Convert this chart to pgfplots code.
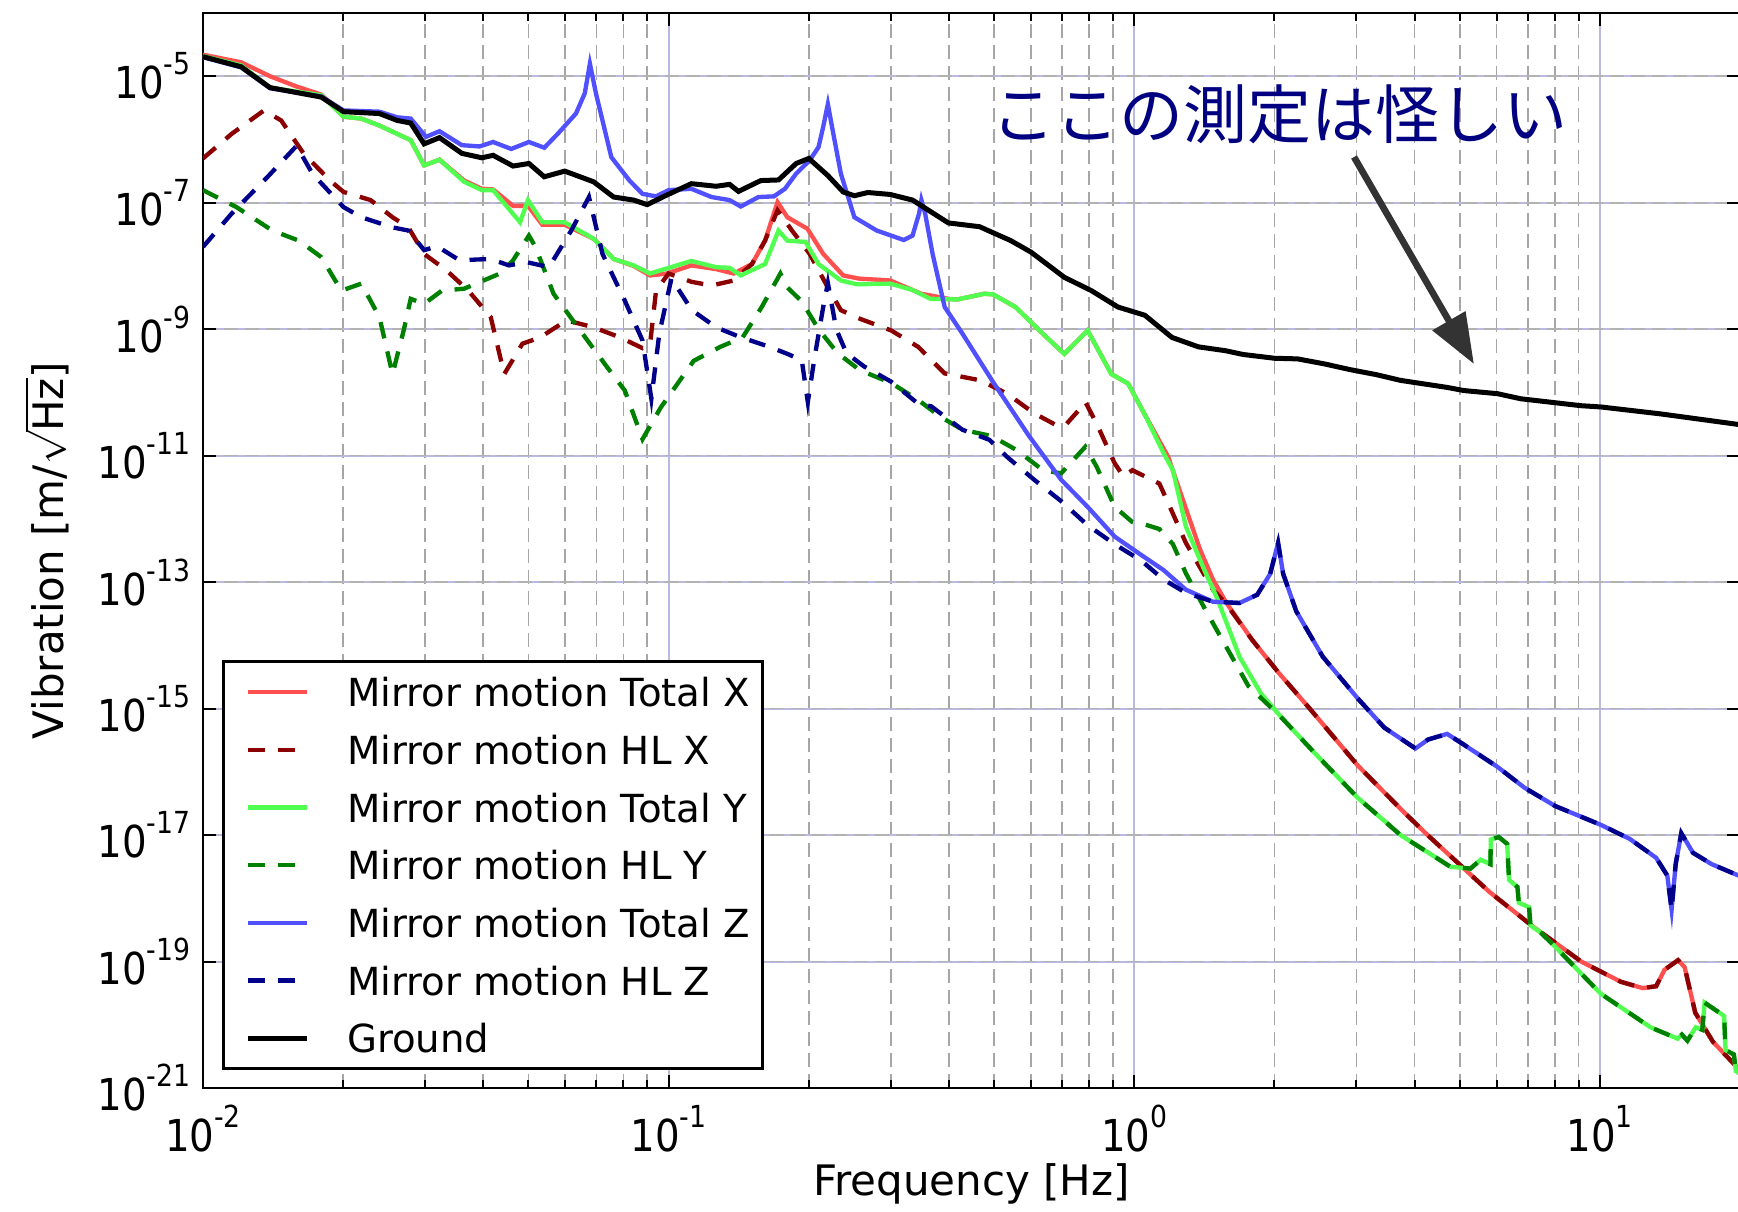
\documentclass[border=0pt]{standalone}
\usepackage{fontspec}
\setmainfont{DejaVu Sans}
\newfontfamily\tickfont{DejaVu Sans}[FakeStretch=0.88]
\newfontfamily\cjk{Noto Sans CJK JP}
\usepackage{pgfplots}
\pgfplotsset{compat=1.18}
\usetikzlibrary{arrows.meta}
\definecolor{totx}{RGB}{255,80,80}
\definecolor{hlx}{RGB}{139,0,0}
\definecolor{toty}{RGB}{80,255,80}
\definecolor{hly}{RGB}{0,128,0}
\definecolor{totz}{RGB}{80,80,255}
\definecolor{hlz}{RGB}{0,0,139}
\definecolor{gridblue}{RGB}{185,185,225}
\definecolor{annot}{RGB}{0,0,128}
\definecolor{arrowgray}{RGB}{51,51,51}
\newcommand{\tl}[1]{10\raisebox{7.2pt}{\fontsize{9.1}{10}\selectfont #1}}
\begin{document}
\begin{tikzpicture}
\begin{axis}[
  at={(60.9pt,37.2pt)}, anchor=south west,
  scale only axis, width=461.1pt, height=322.5pt,
  xmode=log, ymode=log,
  xmin=0.01, xmax=20, ymin=1e-21, ymax=1e-4,
  xtick={0.01,0.1,1,10},
  xticklabels={\tl{-2},\tl{-1},\tl{0},\tl{1}},
  minor xtick={0.02,0.03,0.04,0.05,0.06,0.07,0.08,0.09,0.2,0.3,0.4,0.5,0.6,0.7,0.8,0.9,2,3,4,5,6,7,8,9,20},
  ytick={1e-21,1e-19,1e-17,1e-15,1e-13,1e-11,1e-9,1e-7,1e-5},
  yticklabels={\tl{-21},\tl{-19},\tl{-17},\tl{-15},\tl{-13},\tl{-11},\tl{-9},\tl{-7},\tl{-5}},
  tick align=inside, tick pos=both,
  major tick length=4pt, minor tick length=2.5pt,
  every tick/.style={black, line width=0.6pt},
  xmajorgrids, xminorgrids, ymajorgrids,
  major x grid style={gridblue, line width=0.6pt},
  minor x grid style={gray!70, dash pattern=on 4.2pt off 2.1pt, line width=0.5pt},
  major y grid style={gridblue, line width=0.6pt, postaction={draw=gray!60, dash pattern=on 4.2pt off 2.1pt, line width=0.5pt}},
  axis line style={line width=0.8pt},
  ticklabel style={font=\tickfont\fontsize{13.2}{15}\selectfont},
  xticklabel style={anchor=base, yshift=-18.9pt},
  yticklabel style={inner sep=0pt, xshift=-3.6pt},
  xlabel={Frequency [Hz]},
  ylabel={Vibration [m/$\sqrt{\mbox{Hz}}$]},
  label style={font=\fontsize{12.6}{15}\selectfont},
  xlabel style={at={(axis description cs:0.5,-0.0893)}, anchor=center},
  ylabel style={at={(axis description cs:-0.1017,0.5)}, anchor=center, inner sep=0pt},
  legend style={at={(0.0124,0.0167)}, anchor=south west, draw=black, line width=0.8pt, fill=white,
    font=\fontsize{11.6}{13}\selectfont, inner xsep=3.7pt, inner ysep=4.8pt, row sep=8.6pt, column sep=11.3pt,
    nodes={inner sep=0pt, text height=8.7pt, text depth=0pt}},
  legend cell align=left,
  legend image code/.code={\path (0pt,0pt); \draw[#1] (2.9pt,0pt) -- (20.6pt,0pt);},
]
% Mirror motion Total X
\addplot[totx, line width=1.3pt] coordinates {
(0.0100,2.19e-5) (0.01208,1.66e-5) (0.01393,1.00e-5) (0.01585,6.92e-6) (0.01795,5.13e-6)
(0.02004,2.29e-6) (0.02188,2.14e-6) (0.02393,1.66e-6) (0.02793,9.77e-7) (0.02985,3.89e-7)
(0.03221,4.79e-7) (0.03639,2.24e-7) (0.03972,1.66e-7) (0.04198,1.62e-7) (0.04634,8.91e-8)
(0.04989,8.91e-8) (0.05358,4.47e-8) (0.05984,4.47e-8) (0.06902,2.69e-8) (0.07621,1.29e-8)
(0.08414,1.00e-8) (0.09120,7.08e-9) (0.0991,7.59e-9) (0.1119,1.02e-8) (0.1265,8.91e-9)
(0.1380,7.59e-9) (0.1510,1.07e-8) (0.1611,2.51e-8) (0.1714,1.02e-7) (0.1799,5.89e-8)
(0.1986,3.89e-8) (0.2148,1.55e-8) (0.2371,7.08e-9) (0.2564,6.31e-9) (0.2992,5.89e-9)
(0.3491,3.63e-9) (0.3990,3.02e-9) (0.4169,2.95e-9) (0.4764,3.63e-9) (0.4977,3.55e-9)
(0.5559,2.24e-9) (0.6486,7.41e-10) (0.7079,4.07e-10) (0.7943,9.55e-10) (0.8933,1.95e-10)
(0.9705,1.38e-10) (1.059,4.17e-11) (1.183,9.55e-12) (1.271,2.04e-12) (1.384,3.31e-13)
(1.476,1.10e-13) (1.578,4.68e-14) (1.795,1.20e-14) (2.046,3.63e-15) (2.382,1.00e-15)
(3.020,1.26e-16) (3.750,2.51e-17) (4.266,1.00e-17) (5.794,1.26e-18) (7.194,3.55e-19)
(9.120,1.00e-19) (11.09,4.79e-20) (12.36,3.80e-20) (13.21,4.07e-20) (13.77,7.41e-20)
(14.72,1.05e-19) (15.21,8.13e-20) (16.03,1.55e-20) (17.50,5.37e-21) (20.0,1.91e-21)
};
\addlegendentry{Mirror motion Total X}
% Mirror motion HL X
\addplot[hlx, line width=1.3pt, dash pattern=on 5pt off 4pt] coordinates {
(0.0100,5.01e-7) (0.01153,1.23e-6) (0.01352,2.88e-6) (0.01472,2.00e-6) (0.01644,6.03e-7)
(0.01875,2.24e-7) (0.02004,1.48e-7) (0.02291,1.10e-7) (0.02553,5.89e-8) (0.02761,4.07e-8)
(0.02985,1.55e-8) (0.03334,8.51e-9) (0.03715,4.07e-9) (0.04150,1.55e-9) (0.04436,1.95e-10)
(0.04853,5.89e-10) (0.05297,7.41e-10) (0.06039,1.38e-9) (0.06902,1.07e-9) (0.07870,7.41e-10)
(0.08790,5.01e-10) (0.09120,5.62e-10) (0.09397,4.07e-9) (0.1000,7.59e-9) (0.1119,5.62e-9)
(0.1236,4.90e-9) (0.1380,5.89e-9) (0.1510,1.07e-8) (0.1611,2.51e-8) (0.1714,7.59e-8)
(0.1841,3.63e-8) (0.2009,1.55e-8) (0.2198,4.57e-9) (0.2344,2.00e-9) (0.2564,1.48e-9)
(0.3006,9.55e-10) (0.3436,5.25e-10) (0.3917,2.00e-10) (0.4677,1.55e-10) (0.5333,9.55e-11)
(0.6095,4.68e-11) (0.6808,3.02e-11) (0.7112,3.02e-11) (0.7603,5.25e-11) (0.7852,7.08e-11)
(0.8299,3.24e-11) (0.9078,7.59e-12) (0.9484,4.68e-12) (0.9908,5.89e-12) (1.132,3.63e-12)
(1.183,1.78e-12) (1.291,4.17e-13) (1.476,7.59e-14) (1.578,4.47e-14)
(1.795,1.20e-14) (2.046,3.63e-15) (2.382,1.00e-15)
(3.020,1.26e-16) (3.750,2.51e-17) (4.266,1.00e-17) (5.794,1.26e-18) (7.194,3.55e-19)
(9.120,1.00e-19) (11.09,4.79e-20) (12.36,3.80e-20) (13.21,4.07e-20) (13.77,7.41e-20)
(14.72,1.05e-19) (15.21,8.13e-20) (16.03,1.55e-20) (17.50,5.37e-21) (20.0,1.91e-21)
};
\addlegendentry{Mirror motion HL X}
% Mirror motion Total Y
\addplot[toty, line width=1.3pt] coordinates {
(0.0100,2.09e-5) (0.01208,1.48e-5) (0.01393,6.61e-6) (0.01795,5.01e-6) (0.02004,2.29e-6)
(0.02188,2.14e-6) (0.02393,1.66e-6) (0.02793,9.77e-7) (0.02985,3.89e-7) (0.03221,4.79e-7)
(0.03639,2.14e-7) (0.03972,1.58e-7) (0.04198,1.58e-7) (0.04797,4.90e-8) (0.04989,1.10e-7)
(0.05358,4.90e-8) (0.05984,4.90e-8) (0.06902,2.69e-8) (0.07621,1.29e-8) (0.08414,1.02e-8)
(0.09120,7.59e-9) (0.0991,9.12e-9) (0.1119,1.20e-8) (0.1265,9.55e-9) (0.1352,9.33e-9)
(0.1429,7.08e-9) (0.1611,1.07e-8) (0.1722,3.63e-8) (0.1799,2.51e-8) (0.1968,2.40e-8)
(0.2099,1.07e-8) (0.2344,5.89e-9) (0.2535,5.13e-9) (0.2992,5.25e-9) (0.3342,4.17e-9)
(0.3648,3.02e-9) (0.4169,2.95e-9) (0.4764,3.63e-9) (0.4977,3.55e-9) (0.5559,2.24e-9)
(0.6486,7.41e-10) (0.7079,4.07e-10) (0.7943,9.55e-10) (0.8933,1.95e-10) (0.9705,1.38e-10)
(1.059,4.17e-11) (1.156,1.10e-11) (1.211,5.89e-12) (1.291,7.59e-13) (1.413,1.58e-13)
(1.510,5.37e-14) (1.683,6.61e-15) (1.875,1.70e-15) (2.089,6.76e-16) (2.432,2.04e-16)
(3.020,3.89e-17) (3.733,1.00e-17) (4.775,3.16e-18) (5.272,2.95e-18) (5.546,4.07e-18)
(5.821,3.47e-18) (5.834,8.51e-18) (6.067,9.33e-18) (6.324,7.24e-18) (6.383,1.95e-18)
(6.653,1.51e-18) (6.699,8.51e-19) (7.047,7.24e-19) (7.096,3.72e-19) (7.464,2.88e-19)
(7.980,1.78e-19) (10.05,3.09e-20) (12.85,9.12e-21) (14.69,6.03e-21) (15.00,7.0e-21)
(15.42,5.6e-21) (16.07,9.12e-21) (16.60,8.32e-21) (16.79,2.24e-20) (18.49,1.38e-20)
(18.62,3.98e-21) (19.41,3.39e-21) (19.59,1.86e-21) (20.0,1.66e-21)
};
\addlegendentry{Mirror motion Total Y}
% Mirror motion HL Y
\addplot[hly, line width=1.3pt, dash pattern=on 5pt off 4pt] coordinates {
(0.0100,1.58e-7) (0.01180,8.51e-8) (0.01409,3.63e-8) (0.01607,2.51e-8) (0.01795,1.38e-8)
(0.01982,4.07e-9) (0.02188,5.25e-9) (0.02393,1.55e-9) (0.02553,1.95e-10) (0.02698,9.55e-10)
(0.02793,3.02e-9) (0.02985,2.51e-9) (0.03258,4.07e-9) (0.03639,4.37e-9) (0.04345,7.59e-9)
(0.04634,1.23e-8) (0.05012,3.02e-8) (0.05176,2.00e-8) (0.05662,3.63e-9) (0.06457,9.55e-10)
(0.07379,2.51e-10) (0.08054,1.07e-10) (0.08790,1.82e-11) (0.09616,5.75e-11) (0.1132,3.16e-10)
(0.1291,5.25e-10) (0.1442,7.41e-10) (0.1585,2.24e-9) (0.1738,7.59e-9) (0.1799,4.57e-9)
(0.1932,2.75e-9) (0.2099,1.0e-9) (0.2307,4.17e-10) (0.2576,2.24e-10) (0.3006,1.41e-10)
(0.3436,7.59e-11) (0.3828,4.17e-11) (0.4276,2.57e-11) (0.4943,2.04e-11) (0.5585,1.23e-11)
(0.6368,5.89e-12) (0.6966,5.25e-12) (0.7852,1.38e-11) (0.8299,6.76e-12) (0.9078,1.55e-12)
(0.9908,8.91e-13) (1.035,8.51e-13) (1.132,6.92e-13) (1.211,3.98e-13) (1.291,1.38e-13)
(1.413,3.98e-14) (1.542,1.26e-14) (1.758,2.29e-15) (1.959,1.07e-15)
(2.089,6.76e-16) (2.432,2.04e-16)
(3.020,3.89e-17) (3.733,1.00e-17) (4.775,3.16e-18) (5.272,2.95e-18) (5.546,4.07e-18)
(5.821,3.47e-18) (5.834,8.51e-18) (6.067,9.33e-18) (6.324,7.24e-18) (6.383,1.95e-18)
(6.653,1.51e-18) (6.699,8.51e-19) (7.047,7.24e-19) (7.096,3.72e-19) (7.464,2.88e-19)
(7.980,1.78e-19) (10.05,3.09e-20) (12.85,9.12e-21) (14.69,6.03e-21) (15.00,7.0e-21)
(15.42,5.6e-21) (16.07,9.12e-21) (16.60,8.32e-21) (16.79,2.24e-20) (18.49,1.38e-20)
(18.62,3.98e-21) (19.41,3.39e-21) (19.59,1.86e-21) (20.0,1.66e-21)
};
\addlegendentry{Mirror motion HL Y}
% Mirror motion Total Z
\addplot[totz, line width=1.3pt] coordinates {
(0.0100,2.00e-5) (0.01208,1.38e-5) (0.01393,6.46e-6) (0.01795,4.79e-6) (0.02004,2.88e-6)
(0.02393,2.75e-6) (0.02612,2.24e-6) (0.02793,2.14e-6) (0.03013,1.10e-6) (0.03221,1.35e-6)
(0.03597,8.13e-7) (0.03926,7.76e-7) (0.04198,9.12e-7) (0.04592,7.08e-7) (0.05012,9.12e-7)
(0.05408,7.41e-7) (0.05781,1.23e-6) (0.06324,2.57e-6) (0.06607,5.37e-6) (0.06776,1.58e-5)
(0.06982,5.37e-6) (0.07534,5.25e-7) (0.08241,2.24e-7) (0.08790,1.38e-7) (0.09397,1.26e-7)
(0.1000,1.58e-7) (0.1119,1.66e-7) (0.1236,1.23e-7) (0.1352,1.10e-7) (0.1429,8.71e-8)
(0.1560,1.23e-7) (0.1683,1.26e-7) (0.1778,1.66e-7) (0.1879,2.88e-7) (0.2009,4.68e-7)
(0.2099,7.59e-7) (0.2148,1.58e-6) (0.2198,3.63e-6) (0.2244,1.58e-6) (0.2344,2.88e-7)
(0.2506,5.89e-8) (0.2799,3.63e-8) (0.3199,2.57e-8) (0.3342,3.02e-8) (0.3451,6.76e-8)
(0.3491,1.10e-7) (0.3556,6.76e-8) (0.3690,1.55e-8) (0.3917,2.24e-9) (0.4276,8.51e-10)
(0.5000,1.38e-10) (0.5957,2.00e-11) (0.6966,4.17e-12) (0.7943,1.55e-12) (0.9078,5.25e-13)
(1.035,2.69e-13) (1.156,1.55e-13) (1.291,7.59e-14) (1.476,4.90e-14) (1.683,4.68e-14)
(1.837,6.31e-14) (1.959,1.35e-13) (2.037,4.17e-13) (2.089,1.35e-13) (2.228,3.47e-14)
(2.541,6.61e-15) (3.020,1.45e-15) (3.443,5.01e-16) (4.018,2.34e-16) (4.276,3.24e-16)
(4.699,3.98e-16) (5.082,2.75e-16) (6.026,1.20e-16) (6.887,5.62e-17) (8.017,2.88e-17)
(10.05,1.45e-17) (11.59,8.71e-18) (13.21,4.37e-18) (13.96,2.29e-18) (14.26,6.61e-19)
(14.55,3.47e-18) (14.96,1.07e-17) (15.85,5.25e-18) (17.38,3.47e-18) (20.0,2.24e-18)
};
\addlegendentry{Mirror motion Total Z}
% Mirror motion HL Z
\addplot[hlz, line width=1.3pt, dash pattern=on 5pt off 4pt] coordinates {
(0.0100,2.00e-8) (0.01153,6.76e-8) (0.01377,2.57e-7) (0.01589,7.94e-7) (0.01718,2.88e-7)
(0.02004,8.51e-8) (0.02188,5.89e-8) (0.02553,4.07e-8) (0.02761,3.63e-8) (0.02985,1.78e-8)
(0.03184,2.04e-8) (0.03556,1.23e-8) (0.04150,1.29e-8) (0.04539,1.02e-8) (0.04955,1.15e-8)
(0.05534,9.55e-9) (0.06180,3.63e-8) (0.06745,1.23e-7) (0.07211,1.55e-8) (0.08054,2.82e-9)
(0.08790,6.61e-10) (0.09183,7.94e-11) (0.09550,8.51e-10) (0.1014,6.31e-9) (0.1122,2.00e-9)
(0.1265,1.07e-9) (0.1419,7.59e-10) (0.1648,5.25e-10) (0.1799,4.07e-10) (0.1932,3.24e-10)
(0.1991,7.08e-11) (0.2056,3.39e-10) (0.2148,2.24e-9) (0.2198,5.37e-9) (0.2291,1.0e-9)
(0.2410,4.17e-10) (0.2630,2.57e-10) (0.3006,1.48e-10) (0.3436,6.61e-11) (0.3664,6.03e-11)
(0.4276,2.57e-11) (0.4887,1.78e-11) (0.5333,9.55e-12) (0.6095,4.17e-12) (0.6966,1.91e-12)
(0.7943,7.94e-13) (0.9078,3.98e-13) (1.035,2.19e-13) (1.156,1.10e-13) (1.291,6.76e-14)
(1.476,4.90e-14) (1.683,4.68e-14)
(1.837,6.31e-14) (1.959,1.35e-13) (2.037,4.17e-13) (2.089,1.35e-13) (2.228,3.47e-14)
(2.541,6.61e-15) (3.020,1.45e-15) (3.443,5.01e-16) (4.018,2.34e-16) (4.276,3.24e-16)
(4.699,3.98e-16) (5.082,2.75e-16) (6.026,1.20e-16) (6.887,5.62e-17) (8.017,2.88e-17)
(10.05,1.45e-17) (11.59,8.71e-18) (13.21,4.37e-18) (13.96,2.29e-18) (14.26,6.61e-19)
(14.55,3.47e-18) (14.96,1.07e-17) (15.85,5.25e-18) (17.38,3.47e-18) (20.0,2.24e-18)
};
\addlegendentry{Mirror motion HL Z}
% Ground
\addplot[black, line width=1.5pt] coordinates {
(0.0100,2.04e-5) (0.01208,1.41e-5) (0.01393,6.61e-6) (0.01795,4.68e-6) (0.02004,2.75e-6)
(0.02393,2.57e-6) (0.02612,2.00e-6) (0.02793,1.82e-6) (0.02985,8.51e-7) (0.03221,1.07e-6)
(0.03597,6.03e-7) (0.03972,5.13e-7) (0.04198,5.62e-7) (0.04634,3.80e-7) (0.05012,4.17e-7)
(0.05408,2.57e-7) (0.05984,3.16e-7) (0.06902,2.14e-7) (0.07621,1.23e-7) (0.08414,1.10e-7)
(0.08995,9.33e-8) (0.0991,1.32e-7) (0.1119,2.00e-7) (0.1265,1.82e-7) (0.1352,1.95e-7)
(0.1413,1.51e-7) (0.1578,2.24e-7) (0.1722,2.29e-7) (0.1879,4.17e-7) (0.2000,5.01e-7)
(0.2198,2.69e-7) (0.2371,1.48e-7) (0.2506,1.29e-7) (0.2679,1.45e-7) (0.2992,1.35e-7)
(0.3342,1.10e-7) (0.3990,4.79e-8) (0.4656,4.17e-8) (0.5433,2.51e-8) (0.5998,1.66e-8)
(0.7079,6.61e-9) (0.8091,4.07e-9) (0.9226,2.24e-9) (1.054,1.66e-9) (1.205,7.41e-10)
(1.374,5.25e-10) (1.570,4.57e-10) (1.714,3.98e-10) (2.000,3.47e-10) (2.244,3.39e-10)
(2.564,2.82e-10) (2.911,2.29e-10) (3.311,1.91e-10) (3.733,1.55e-10) (4.699,1.20e-10)
(5.105,1.07e-10) (6.026,9.55e-11) (6.761,7.94e-11) (9.10,6.17e-11) (10.05,5.89e-11)
(13.52,4.57e-11) (20.0,3.09e-11)
};
\addlegendentry{Ground}
\node[annot, font=\cjk\fontsize{19.2}{22}\selectfont] at (axis description cs:0.7007,0.906) {ここの測定は怪しい};
\draw[arrowgray, line width=2pt, -{Triangle[length=15pt,width=11pt]}] (axis description cs:0.7489,0.866) -- (axis description cs:0.8269,0.6735);
\end{axis}
\pgfresetboundingbox
\path (0pt,0pt) rectangle (521.4pt,363.6pt);
\end{tikzpicture}
\end{document}
